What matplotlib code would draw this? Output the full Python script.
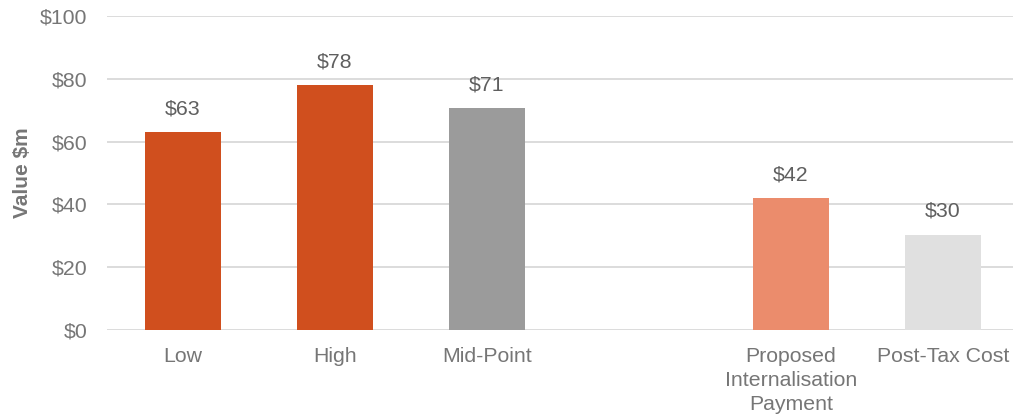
import matplotlib
matplotlib.use('Agg')
import matplotlib.pyplot as plt
from matplotlib.ticker import FuncFormatter

plt.rcParams['font.family'] = ['Liberation Sans', 'DejaVu Sans']

# categories (empty slot keeps the gap between the two groups)
categories = ['Low', 'High', 'Mid-Point', '', 'Proposed\nInternalisation\nPayment', 'Post-Tax Cost']
values = [63, 78, 70.6, None, 42, 30.3]
bar_colors = ['#D04F1E', '#D04F1E', '#9B9B9B', None, '#EB8C6C', '#E0E0E0']
y_ticks = [0, 20, 40, 60, 80, 100]

text_gray = '#767676'
label_gray = '#5F5F5F'

fig = plt.figure(figsize=(10.13, 4.19), dpi=100)
ax = fig.add_axes([107 / 1013, 1 - 330 / 419, 912 / 1013, 314 / 419])

for i, (v, c) in enumerate(zip(values, bar_colors)):
    if v is None:
        continue
    ax.bar(i, v, width=0.5, color=c, zorder=2)
    ax.annotate(f'${v:.0f}', xy=(i, v), xytext=(0, 10), textcoords='offset points',
                ha='center', va='bottom', fontsize=15.3, color=label_gray)

ax.set_xlim(-0.5, len(categories) - 0.5)
ax.set_ylim(0, 100)
ax.set_yticks(y_ticks)
ax.yaxis.set_major_formatter(FuncFormatter(lambda v, p: f'${v:.0f}'))
ax.set_xticks(range(len(categories)))
ax.set_xticklabels(categories, linespacing=1.35)

ax.grid(axis='y', color='#D9D9D9', linewidth=1.3, zorder=0)
ax.set_axisbelow(True)
for s in ax.spines.values():
    s.set_visible(False)
ax.tick_params(axis='both', length=0, labelsize=15.3, colors=text_gray)
ax.tick_params(axis='y', pad=14)
ax.tick_params(axis='x', pad=12)

fig.text(22 / 1013, 1 - 173 / 419, 'Value $m', rotation=90, ha='center', va='center',
         fontsize=15, fontweight='bold', color=text_gray)

fig.savefig('out.png', dpi=100)
